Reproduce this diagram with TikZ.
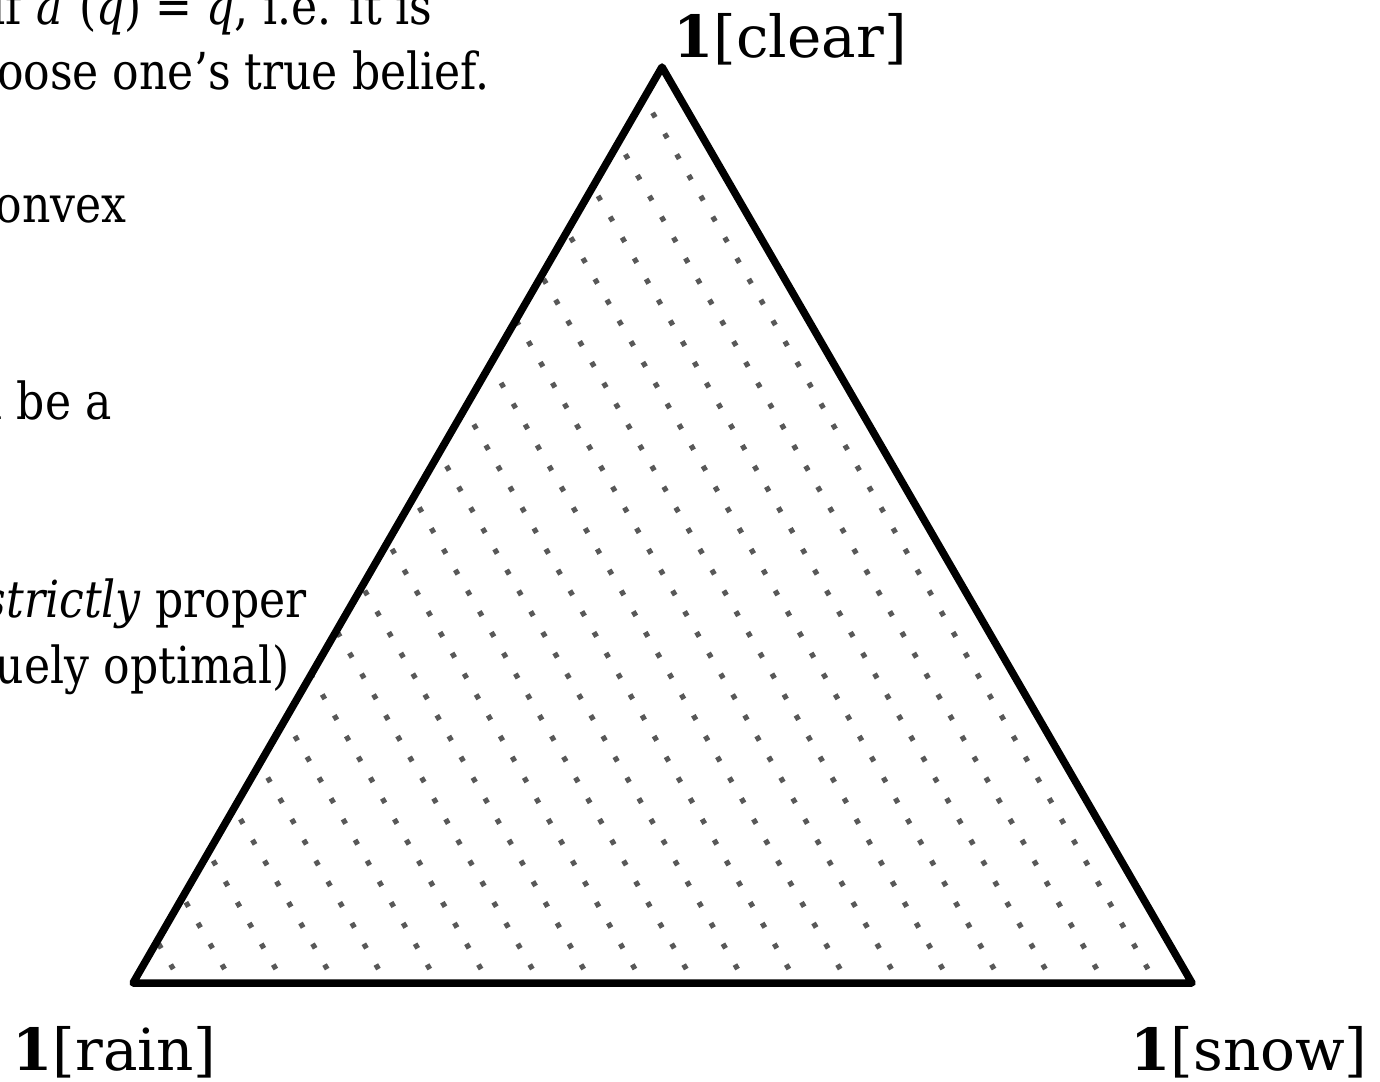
\documentclass[tikz,border=0pt]{standalone}
\usepackage{fontspec}
\setmainfont{DejaVu Serif}
\newfontfamily\bodyfont[FakeStretch=0.865]{DejaVu Serif}
\definecolor{dotgray}{HTML}{585858}
\tikzset{
  edge/.style={line width=3.75pt, line join=round, line cap=round, draw=black},
  dotline/.style={draw=dotgray, line width=2.6pt, dash pattern=on 2.6pt off 9.4pt},
  lbl/.style={inner sep=0pt, font=\fontsize{29}{35}\selectfont},
  frag/.style={inner sep=0pt, anchor=base east, font=\bodyfont\fontsize{25.5}{31}\selectfont}
}
\begin{document}
\begin{tikzpicture}[x=0.5pt,y=-0.5pt]
\useasboundingbox (0,0) rectangle (1380,1081);
\clip (0,0) rectangle (1380,1081);
\coordinate (C) at (662,67);
\coordinate (R) at (133,983);
\coordinate (S) at (1192,983);
\begin{scope}
  \clip (C) -- (R) -- (S) -- cycle;
  \foreach \k in {0,...,19} {
    \draw[dotline] ({1156-51.3*\k+16},1010.6) -- ++(-560,-968);
  }
\end{scope}
\draw[edge] (C) -- (R) -- (S) -- cycle;
\node[lbl, anchor=base west] (lc) at (673,58) {\textbf{1}[clear]};
\node[lbl, anchor=base west] (lr) at (12,1070) {\textbf{1}[rain]};
\node[lbl, anchor=base east] (ls) at (1368,1070) {\textbf{1}[snow]};
\node[frag] (t1) at (433,25) {if \textit{a}\textsuperscript{*}(\textit{q}) = \textit{q}, i.e. it is};
\node[frag] (t2) at (490,90) {oose one’s true belief.};
\node[frag] (t3) at (127,222) {onvex};
\node[frag] (t4) at (112,419) {l be a};
\node[frag] (t5) at (307,617) {\textit{strictly} proper};
\node[frag] (t6) at (290,683) {uely optimal)};
\end{tikzpicture}
\end{document}
